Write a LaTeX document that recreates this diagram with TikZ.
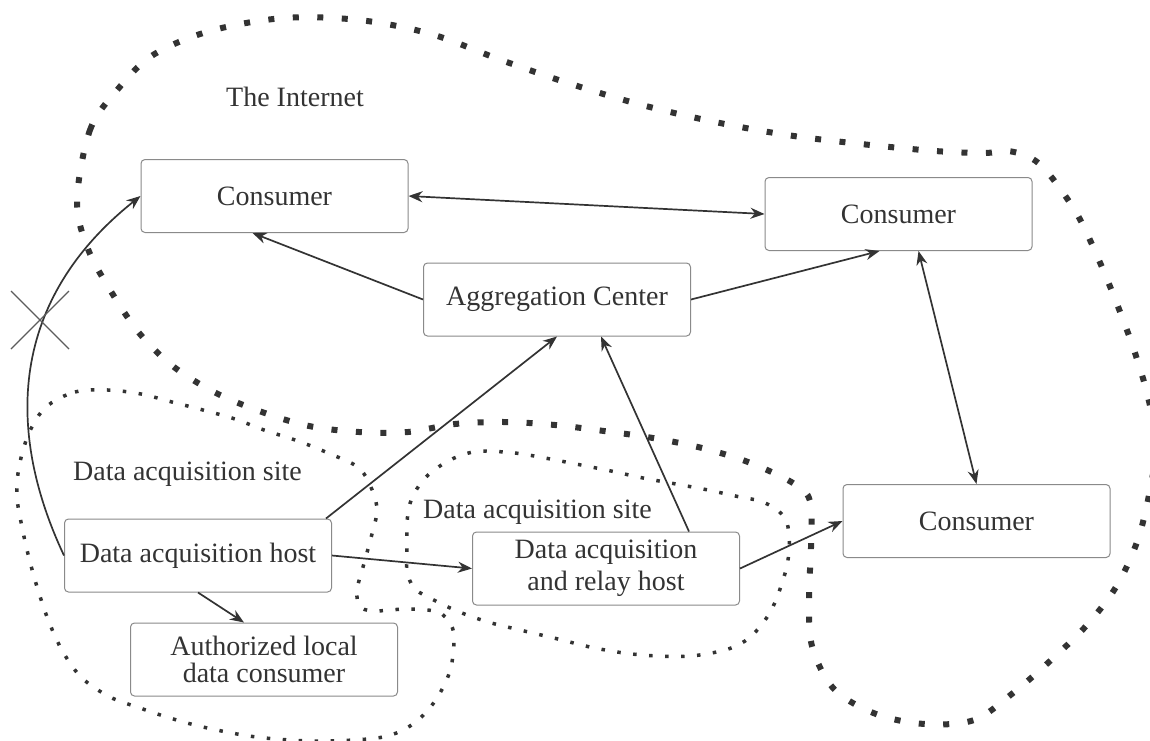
\documentclass[tikz,border=0pt]{standalone}
\usepackage{fontspec}
\setmainfont{Liberation Serif}
\usetikzlibrary{arrows.meta,calc}
\definecolor{ink}{HTML}{333333}
\definecolor{boxline}{HTML}{8A8A8A}
\begin{document}
\begin{tikzpicture}[x=1pt,y=-1pt,
  box/.style={draw=boxline,line width=1pt,rounded corners=4pt,minimum width=267pt,minimum height=73pt,inner sep=0pt,align=center,text=ink,font=\fontsize{28}{32}\selectfont},
  lbl/.style={text=ink,font=\fontsize{28}{32}\selectfont,inner sep=0pt,anchor=base west},
  conn/.style={draw=ink,line width=1.7pt,-{Stealth[length=14pt,width=11pt]}},
  bconn/.style={draw=ink,line width=1.7pt,{Stealth[length=14pt,width=11pt]}-{Stealth[length=14pt,width=11pt]}},
  bigdots/.style={draw=ink,line width=6pt,dash pattern=on 6pt off 18.5pt},
  smalldots/.style={draw=ink,line width=3.5pt,dash pattern=on 3.5pt off 12.5pt},
  crossline/.style={draw=ink!80,line width=1.1pt},
]
\useasboundingbox (0,0) rectangle (1150,740);
\fill[white] (0,0) rectangle (1150,740);
\begin{scope}
\clip (0,0) rectangle (1150,740);
% The Internet
\draw[bigdots] plot[smooth cycle,tension=0.55] coordinates {
(77,201) (90,130) (118,89) (153,55) (210,31) (284,18) (359,20) (431,34) (501,60) (571,84)
(642,105) (715,122) (787,135) (861,144) (935,151) (984,153) (1008,151) (1031,158) (1049,174)
(1077,214) (1098,258) (1117,304) (1134,350) (1148,397) (1156,445) (1149,495) (1137,542)
(1116,587) (1086,626) (1050,661) (1013,693) (974,720) (925,724) (876,714) (834,689)
(812,646) (809,597) (811,547) (810,501) (793,483) (748,462) (702,448) (653,438) (604,431)
(555,425) (505,422) (455,424) (408,432) (359,432) (309,426) (262,412) (216,393) (174,367)
(140,334) (112,293) (88,249)};
% site 1
\draw[smalldots] plot[smooth cycle,tension=0.55] coordinates {
(46,407) (75,392) (108,390) (141,394) (172,402) (203,410) (235,419) (264,430) (298,441)
(328,453) (359,468) (373,492) (377,511) (373,530) (365,560) (357,590) (360,606) (373,611)
(407,609) (438,612) (451,625) (454,640) (450,671) (435,701) (413,724) (383,737) (330,741)
(290,740) (249,736) (203,727) (170,718) (140,708) (110,697) (82,678) (63,652) (49,622)
(38,590) (29,558) (22,527) (17,497) (19,467) (29,433)};
% site 2
\draw[smalldots] plot[smooth cycle,tension=0.55] coordinates {
(482,451) (515,453) (545,458) (576,464) (611,471) (643,478) (676,484) (708,490) (740,497)
(760,501) (776,509) (786,520) (789,535) (789,550) (787,566) (782,583) (776,600) (769,614)
(759,628) (745,641) (725,650) (691,656) (657,656) (624,653) (590,647) (558,639) (520,630)
(488,622) (457,611) (428,597) (414,588) (407,572) (407,555) (407,525) (409,507) (415,492)
(425,478) (437,468) (450,460) (465,454)};
\end{scope}

\node[lbl] (internet) at (226,106) {The Internet};
\node[lbl] (site1) at (73,480) {Data acquisition site};
\node[lbl] (site2) at (423,518) {Data acquisition site};

\node[box] (c1) at (274.5,196) {Consumer};
\node[box] (c2) at (898.5,214) {Consumer};
\node[box] (agg) at (557,299.5) {Aggregation Center};
\node[box] (c3) at (976.5,521) {Consumer};
\node[box] (host) at (198,555.5) {Data acquisition host};
\node[box] (relay) at (606,568.5) {Data acquisition\\and relay host};
\node[box,font=\fontsize{28}{27}\selectfont] (auth) at (264,659.5) {Authorized local\\data consumer};

\draw[bconn] (c1.east) -- (c2.west);
\draw[conn] (agg.west) -- ([xshift=-22pt]c1.south);
\draw[conn] (agg.east) -- ([xshift=-19pt]c2.south);
\draw[bconn] ([xshift=20pt]c2.south) -- (c3.north);
\draw[conn] ([xshift=-6pt]host.north east) -- (agg.south);
\draw[conn] ([xshift=83pt]relay.north) -- ([xshift=44pt]agg.south);
\draw[conn] (host.east) -- (relay.west);
\draw[conn] (relay.east) -- (c3.west);
\draw[conn] (host.south) -- ([xshift=-20pt]auth.north);
\draw[conn] (host.west) .. controls (5,430) and (10,300) .. (c1.west);

\draw[crossline] (11,291) -- (69,349);
\draw[crossline] (11,349) -- (69,291);
\end{tikzpicture}
\end{document}
